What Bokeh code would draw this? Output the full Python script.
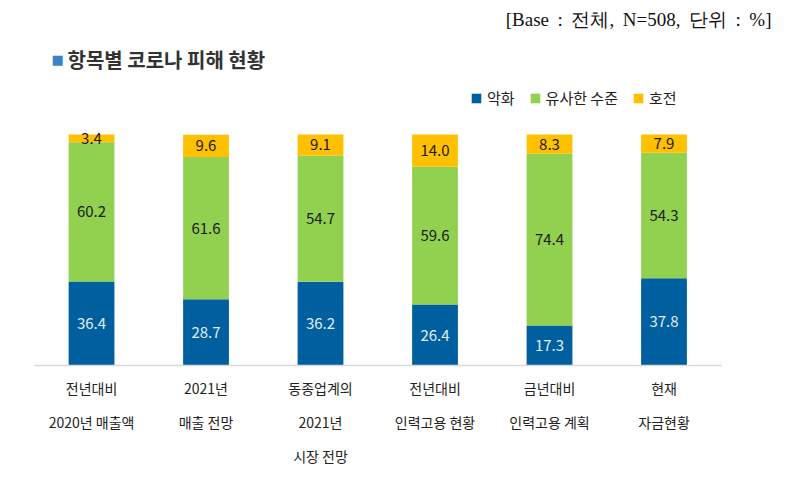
from bokeh.plotting import figure
from bokeh.models import ColumnDataSource, LabelSet, Label, Legend, LegendItem, FixedTicker, Range1d
from bokeh.core.properties import value
from bokeh.embed import file_html
from bokeh.resources import INLINE

categories = ["전년대비\n2020년 매출액", "2021년\n매출 전망", "동종업계의\n2021년\n시장 전망",
              "전년대비\n인력고용 현황", "금년대비\n인력고용 계획", "현재\n자금현황"]
series = ["악화", "유사한 수준", "호전"]
worse = [36.4, 28.7, 36.2, 26.4, 17.3, 37.8]
similar = [60.2, 61.6, 54.7, 59.6, 74.4, 54.3]
better = [3.4, 9.6, 9.1, 14.0, 8.3, 7.9]
colors = ["#00609f", "#92d050", "#ffc000"]

KFONT = "Noto Sans CJK KR"

pos = list(range(len(categories)))

# frame spans the whole canvas width; 114.5 px per category
p = figure(width=789, height=485, x_range=Range1d(-0.795, 6.096), y_range=(0, 158.0),
           output_backend="svg", toolbar_location=None,
           min_border_left=0, min_border_right=0, min_border_top=0, min_border_bottom=120)
p.outline_line_color = None
p.xgrid.visible = False
p.ygrid.visible = False
p.yaxis.visible = False

src = ColumnDataSource(dict(x=pos))
for s, v in zip(series, (worse, similar, better)):
    src.data[s] = v
rs = p.vbar_stack(series, x="x", width=0.4, color=colors, line_color=None, source=src)

lx, ly, lt, lc = [], [], [], []
for i in pos:
    base = 0.0
    for vals, col in ((worse, "#e4ecf4"), (similar, "#1a1a1a"), (better, "#1a1a1a")):
        v = vals[i]
        lx.append(i)
        ly.append(base + v / 2)
        lt.append(f"{v:.1f}")
        lc.append(col)
        base += v
lsrc = ColumnDataSource(dict(x=lx, y=ly, t=lt, c=lc))
p.add_layout(LabelSet(x="x", y="y", text="t", source=lsrc, text_color="c",
                      text_align="center", text_baseline="middle",
                      text_font=value(KFONT), text_font_size=value("15px")))

ax = p.xaxis[0]
ax.ticker = FixedTicker(ticks=pos)
ax.major_label_overrides = {i: c for i, c in zip(pos, categories)}
ax.bounds = (-0.5, len(categories) - 0.5)
ax.axis_line_color = "#d9d9d9"
ax.axis_line_width = 1.5
ax.major_tick_line_color = None
ax.minor_tick_line_color = None
ax.major_tick_out = 0
ax.major_tick_in = 0
ax.major_label_standoff = 12
ax.major_label_text_font = KFONT
ax.major_label_text_font_size = "14px"
ax.major_label_text_color = "#222222"
ax.major_label_text_line_height = 1.72

legend = Legend(items=[LegendItem(label=s, renderers=[r]) for s, r in zip(series, rs)],
                location=(470, 257), orientation="horizontal",
                glyph_width=12, glyph_height=12, label_height=12, label_standoff=5,
                spacing=14, padding=0, margin=0, border_line_color=None,
                background_fill_alpha=0,
                label_text_font=KFONT, label_text_font_size="15px", label_text_color="#222222")
p.add_layout(legend, "center")

# screen units are relative to the frame's bottom-left
base_note = "[Base : 전체, N=508, 단위 : %]".replace(" ", "\u2009 ")
p.add_layout(Label(x=771, y=346, x_units="screen", y_units="screen",
                   text=base_note, text_align="right",
                   text_baseline="middle", text_font="Liberation Serif",
                   text_font_size="19px", text_color="#111111"))
p.add_layout(Label(x=51, y=306, x_units="screen", y_units="screen", text="■",
                   text_align="left", text_baseline="middle", text_font="DejaVu Sans",
                   text_font_size="13px", text_color="#3b82c8"))
p.add_layout(Label(x=67, y=306, x_units="screen", y_units="screen",
                   text="항목별 코로나 피해 현황", text_align="left",
                   text_baseline="middle", text_font=KFONT, text_font_style="bold",
                   text_font_size="20px", text_color="#333333"))

open("out.html", "w").write(file_html(p, INLINE))
